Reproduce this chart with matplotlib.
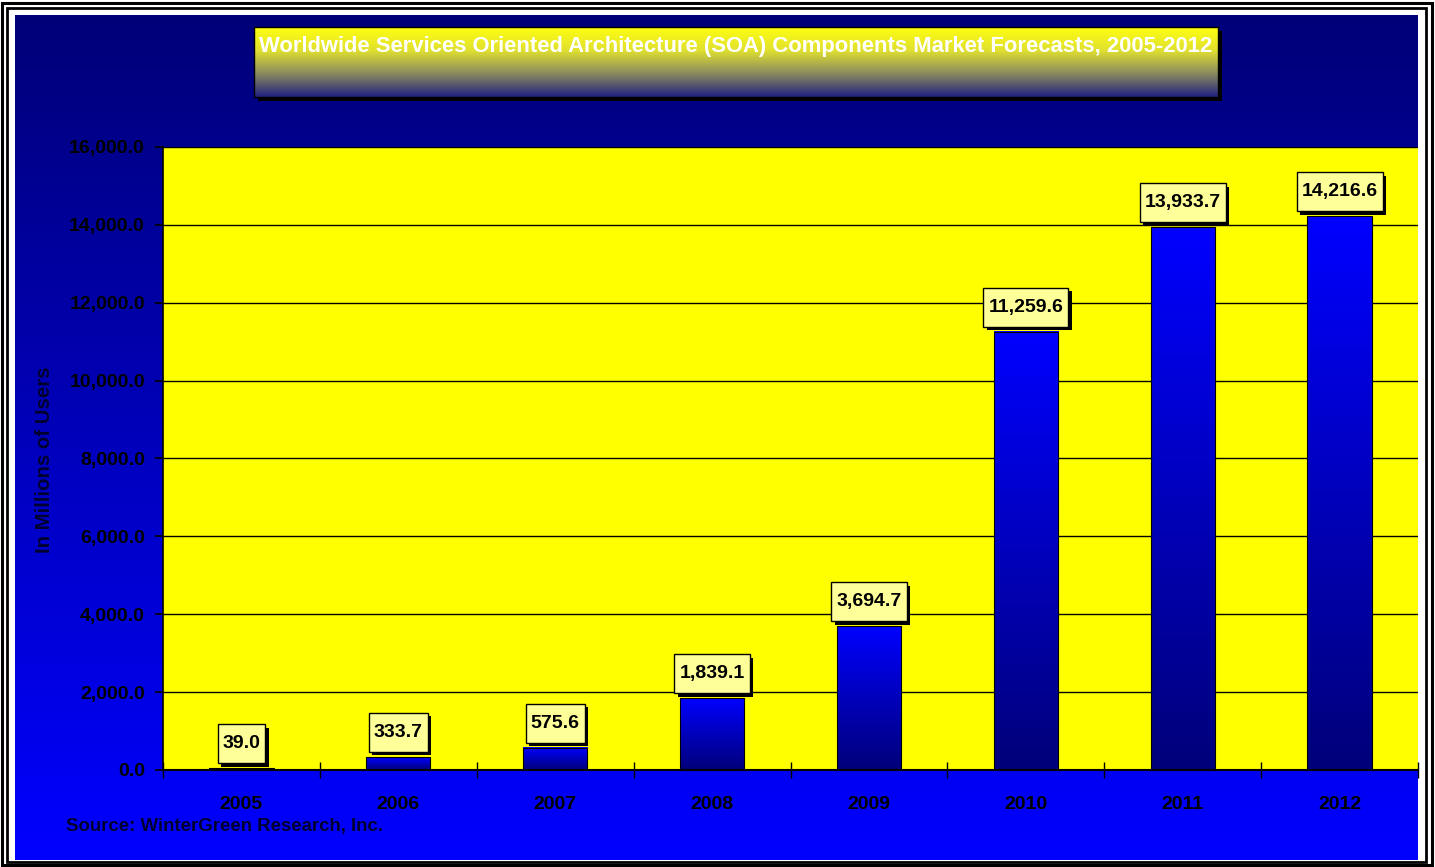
import numpy as np
import matplotlib
matplotlib.use("Agg")
import matplotlib.pyplot as plt
from matplotlib.patches import Rectangle
from matplotlib.path import Path
from matplotlib.colors import LinearSegmentedColormap
from matplotlib.ticker import FuncFormatter, FixedLocator
import matplotlib.patheffects as pe

years = ["2005", "2006", "2007", "2008", "2009", "2010", "2011", "2012"]
values = [39.0, 333.7, 575.6, 1839.1, 3694.7, 11259.6, 13933.7, 14216.6]
title = "Worldwide Services Oriented Architecture (SOA) Components Market Forecasts, 2005-2012"
ylabel = "In Millions of Users"
source = "Source: WinterGreen Research, Inc."
yticks = [0, 2000, 4000, 6000, 8000, 10000, 12000, 14000, 16000]

plt.rcParams['font.family'] = ['Liberation Sans', 'DejaVu Sans']
W, H = 1435, 867
fig = plt.figure(figsize=(W / 100, H / 100), dpi=100, facecolor="white")

def fx(px):
    return px / W

def fy(py):
    return 1 - py / H

# outer double border
for (x0, y0, x1, y1, lw) in [(2, 3, 1432, 865, 2.2), (7, 8, 1426, 862, 2.0)]:
    fig.patches.append(Rectangle((fx(x0), fy(y1)), fx(x1) - fx(x0), fy(y0) - fy(y1),
                                 transform=fig.transFigure, fill=False,
                                 edgecolor="black", lw=lw, zorder=0))

# background gradient (navy top -> blue bottom)
bg = fig.add_axes([fx(15), fy(860), fx(1418) - fx(15), fy(15) - fy(860)], zorder=0)
bg_cmap = LinearSegmentedColormap.from_list("bg", ["#000078", "#0000FF"])
bg.imshow(np.linspace(0, 1, 256).reshape(-1, 1), aspect="auto", cmap=bg_cmap,
          extent=[0, 1, 1, 0], interpolation="bicubic")
bg.set_axis_off()

# title box
tb_x0, tb_x1, tb_y0, tb_y1 = 254, 1218, 27, 97
fig.patches.append(Rectangle((fx(tb_x0 + 4), fy(tb_y1 + 4)), fx(tb_x1) - fx(tb_x0),
                             fy(tb_y0) - fy(tb_y1), transform=fig.transFigure,
                             facecolor="black", edgecolor="none", zorder=1))
tax = fig.add_axes([fx(tb_x0), fy(tb_y1), fx(tb_x1) - fx(tb_x0), fy(tb_y0) - fy(tb_y1)], zorder=2)
t_cmap = LinearSegmentedColormap.from_list("tb", ["#FFFF10", "#E0E030", "#8A8A60", "#202080"])
tax.imshow(np.linspace(0, 1, 256).reshape(-1, 1), aspect="auto", cmap=t_cmap,
           extent=[0, 1, 1, 0], interpolation="bicubic")
tax.set_xticks([]); tax.set_yticks([])
for s in tax.spines.values():
    s.set_color("black"); s.set_linewidth(1.0)
fig.text(fx((tb_x0 + tb_x1) / 2), fy(46.5), title, color="white", fontsize=15.8,
         fontweight="bold", ha="center", va="center", zorder=5)

# main axes
ax = fig.add_axes([fx(163), fy(770), fx(1418) - fx(163), fy(147) - fy(770)], zorder=3)
ax.set_facecolor("#FFFF00")
x = np.arange(len(years))
bars = ax.bar(x, values, width=0.41, color="none", edgecolor="black", lw=0.8, zorder=3)
bar_cmap = LinearSegmentedColormap.from_list("bar", ["#00007A", "#0000FF"])
for b in bars:
    bx, by, bw, bh = b.get_x(), b.get_y(), b.get_width(), b.get_height()
    ax.imshow(np.linspace(0, 1, 128).reshape(-1, 1), aspect="auto", cmap=bar_cmap,
              origin="lower", extent=[bx, bx + bw, by, by + bh], zorder=2,
              interpolation="bicubic")

ax.set_xlim(-0.5, len(years) - 0.5)
ax.set_ylim(0, 16000)
ax.set_yticks(yticks)
ax.yaxis.set_major_formatter(FuncFormatter(lambda v, p: f"{v:,.1f}"))
ax.grid(axis="y", color="black", lw=1.0, zorder=1)
ax.set_axisbelow(True)
ax.tick_params(axis="y", direction="out", length=6, width=1.2, pad=7,
               labelsize=14, labelcolor="black")
for lab in ax.get_yticklabels():
    lab.set_fontweight("bold")

ax.xaxis.set_major_locator(FixedLocator(np.arange(-0.5, len(years), 1.0)))
ax.xaxis.set_minor_locator(FixedLocator(x))
ax.set_xticklabels([], minor=False)
ax.set_xticklabels(years, minor=True, fontsize=14, fontweight="bold")
ax.tick_params(axis="x", which="major", direction="inout", length=11, width=1.0)
ax.tick_params(axis="x", which="minor", length=0, pad=19)

for side in ["top", "right"]:
    ax.spines[side].set_visible(False)
ax.spines["left"].set_linewidth(1.2)
ax.spines["bottom"].set_linewidth(1.5)

# label box style with asymmetric padding
def label_box(x0, y0, width, height, mutation_size, px=5, py=11):
    xa, ya = x0 - px, y0 - py
    xb, yb = x0 + width + px, y0 + height + py
    return Path([(xa, ya), (xb, ya), (xb, yb), (xa, yb), (xa, ya)],
                [Path.MOVETO, Path.LINETO, Path.LINETO, Path.LINETO, Path.CLOSEPOLY])

for xi, v in zip(x, values):
    txt = f"{v:,.1f}"
    t = ax.annotate(txt, xy=(xi, v), xytext=(0, 16), textcoords="offset pixels",
                    ha="center", va="bottom", fontsize=14, fontweight="bold", color="black",
                    bbox=dict(boxstyle=label_box, facecolor="#FFFF99", edgecolor="black", lw=1),
                    zorder=7, annotation_clip=False)
    t.get_bbox_patch().set_path_effects([
        pe.SimplePatchShadow(offset=(2.5, -2.5), shadow_rgbFace="black", alpha=1.0),
        pe.Normal()])

fig.text(fx(45), fy(460), ylabel, rotation=90, ha="center", va="center",
         fontsize=14.7, fontweight="bold", color="#000030", zorder=5)
fig.text(fx(66), fy(827), source, ha="left", va="center",
         fontsize=13.4, fontweight="bold", color="#000030", zorder=5)

fig.savefig("out.png", dpi=100, facecolor="white")
